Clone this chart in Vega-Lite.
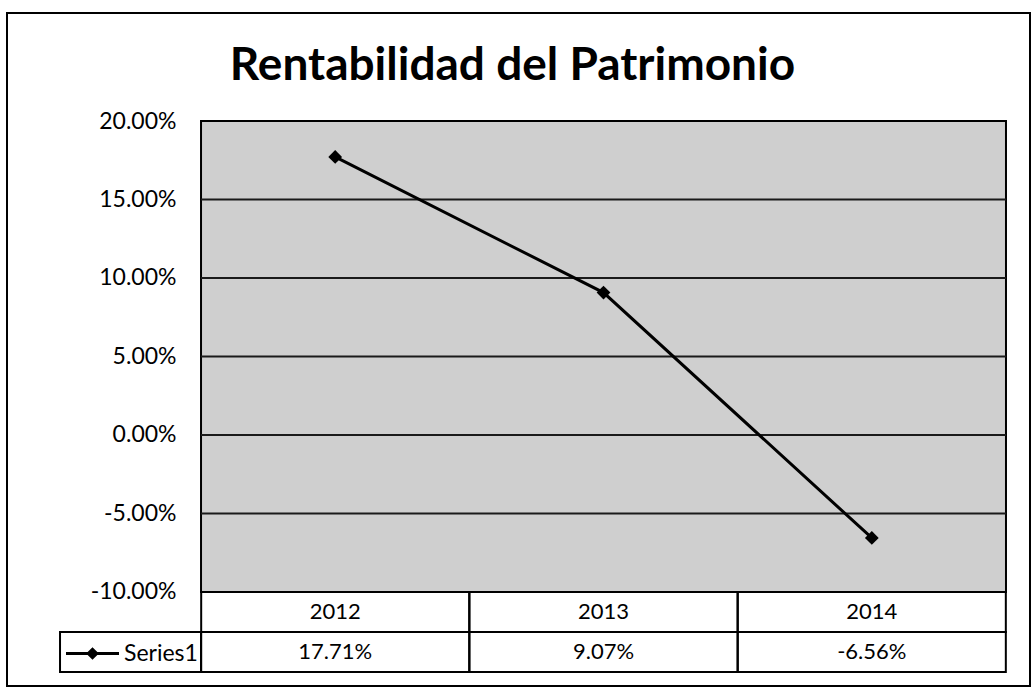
{
  "$schema": "https://vega.github.io/schema/vega-lite/v6.json",
  "width": 1023,
  "height": 673,
  "autosize": {"type": "none"},
  "padding": {"left": 7, "top": 13, "right": 1, "bottom": 7},
  "background": "white",
  "title": {"text": "Rentabilidad del Patrimonio", "font": "Lato", "fontSize": 46, "fontWeight": "bold", "color": "black", "offset": -77, "anchor": "middle", "dx": -6},
  "config": {
    "view": {"stroke": "black", "strokeWidth": 2},
    "locale": {"number": {"decimal": ".", "thousands": ",", "grouping": [3], "currency": ["$", ""], "minus": "-"}}
  },
  "datasets": {
    "series": [
      {"year": 2012, "value": 0.1771, "series": "Series1"},
      {"year": 2013, "value": 0.0907, "series": "Series1"},
      {"year": 2014, "value": -0.0656, "series": "Series1"}
    ],
    "grid": [{"v": -0.05}, {"v": 0}, {"v": 0.05}, {"v": 0.1}, {"v": 0.15}]
  },
  "layer": [
    {
      "data": {"values": [{}]},
      "mark": {"type": "rect", "fill": "#cfcfcf", "stroke": "black", "strokeWidth": 2},
      "encoding": {
        "x": {"datum": 2011.5, "type": "quantitative", "scale": {"domain": [2010.7769, 2014.5895], "nice": false, "zero": false}, "axis": null},
        "x2": {"datum": 2014.5},
        "y": {"datum": -0.1, "type": "quantitative", "scale": {"domain": [-0.1599, 0.2688], "nice": false, "zero": false},
              "axis": {"values": [-0.1, -0.05, 0, 0.05, 0.1, 0.15, 0.2], "format": ".2%", "orient": "left", "offset": -194, "domain": false, "ticks": false, "grid": false, "labelPadding": 25, "labelFont": "Lato", "labelFontSize": 23, "labelColor": "black", "title": null}},
        "y2": {"datum": 0.2}
      }
    },
    {
      "data": {"name": "grid"},
      "mark": {"type": "rule", "stroke": "#1a1a1a", "strokeWidth": 2},
      "encoding": {
        "x": {"datum": 2011.5, "type": "quantitative", "axis": null},
        "x2": {"datum": 2014.5},
        "y": {"field": "v", "type": "quantitative"}
      }
    },
    {
      "data": {"name": "series"},
      "mark": {"type": "rect", "fill": "white", "fillOpacity": 0, "stroke": "black", "strokeWidth": 2, "width": 268},
      "encoding": {
        "x": {"field": "year", "type": "quantitative", "axis": null},
        "y": {"datum": -0.1, "type": "quantitative"},
        "y2": {"datum": -0.12548}
      }
    },
    {
      "data": {"name": "series"},
      "mark": {"type": "rect", "fill": "white", "fillOpacity": 0, "stroke": "black", "strokeWidth": 2, "width": 268},
      "encoding": {
        "x": {"field": "year", "type": "quantitative", "axis": null},
        "y": {"datum": -0.12548, "type": "quantitative"},
        "y2": {"datum": -0.15096}
      }
    },
    {
      "data": {"values": [{}]},
      "mark": {"type": "rect", "fill": "white", "fillOpacity": 0, "stroke": "black", "strokeWidth": 2},
      "encoding": {
        "x": {"datum": 2010.9745, "type": "quantitative", "axis": null},
        "x2": {"datum": 2011.5},
        "y": {"datum": -0.12548, "type": "quantitative"},
        "y2": {"datum": -0.15096}
      }
    },
    {
      "data": {"name": "series"},
      "mark": {"type": "text", "font": "Lato", "fontSize": 22, "color": "black", "baseline": "middle", "align": "center"},
      "encoding": {
        "x": {"field": "year", "type": "quantitative", "axis": null},
        "y": {"datum": -0.11274, "type": "quantitative"},
        "text": {"field": "year", "type": "nominal"}
      }
    },
    {
      "data": {"name": "series"},
      "mark": {"type": "text", "font": "Lato", "fontSize": 22, "color": "black", "baseline": "middle", "align": "center"},
      "encoding": {
        "x": {"field": "year", "type": "quantitative", "axis": null},
        "y": {"datum": -0.13822, "type": "quantitative"},
        "text": {"field": "value", "type": "quantitative", "format": ".2%"}
      }
    },
    {
      "data": {"name": "series"},
      "mark": {"type": "line", "stroke": "black", "strokeWidth": 3},
      "encoding": {
        "x": {"field": "year", "type": "quantitative", "axis": null},
        "y": {"field": "value", "type": "quantitative"}
      }
    },
    {
      "data": {"name": "series"},
      "mark": {"type": "point", "shape": "diamond", "filled": true, "size": 190, "opacity": 1},
      "encoding": {
        "x": {"field": "year", "type": "quantitative", "axis": null},
        "y": {"field": "value", "type": "quantitative"},
        "color": {"field": "series", "type": "nominal", "scale": {"range": ["black"]},
          "legend": {"orient": "none", "legendX": 58, "legendY": 613, "title": null, "padding": 0,
            "symbolType": "M-1,-0.055L1,-0.055L1,0.055L-1,0.055Z M0,-0.24L0.24,0L0,0.24L-0.24,0Z", "symbolSize": 2809,
            "labelFont": "Lato", "labelFontSize": 23, "labelColor": "black", "labelOffset": 4,
            "encode": {"symbols": {"update": {"fill": {"value": "black"}, "stroke": {"value": "black"}, "strokeWidth": {"value": 0.5}, "opacity": {"value": 1}}}}}}
      }
    }
  ]
}
